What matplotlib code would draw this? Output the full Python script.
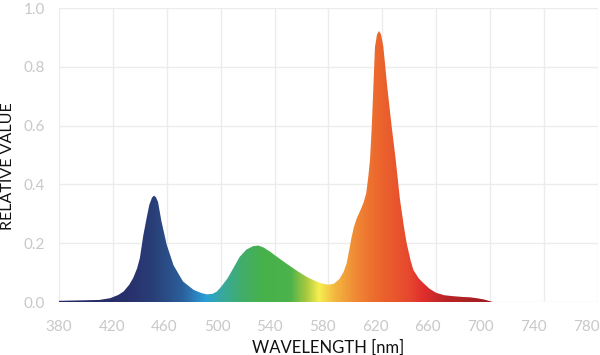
import numpy as np
import matplotlib
matplotlib.use("Agg")
import matplotlib.pyplot as plt
import matplotlib.transforms as mtransforms
from matplotlib.colors import LinearSegmentedColormap

# ---- data ----
wavelength = [380, 390, 400, 410, 418, 424, 428, 432, 435, 438, 440, 442.5, 445, 447, 449,
              450.5, 452, 453.5, 456, 460, 465, 472, 480, 486, 490, 494, 497, 500, 505, 510,
              514, 519, 524, 528, 532, 537, 542, 549, 557, 564, 570, 575, 580, 584, 588, 591,
              593.5, 595.5, 597.2, 599, 601, 603.5, 606, 608, 609.5, 610.8, 612.1, 613.3,
              614.5, 616, 617.5, 619, 620.7, 623.6, 626.9, 629.9, 633, 636, 638, 641, 643,
              647, 650.5, 655, 660, 666, 672, 680, 685, 690, 695, 699, 702]
relative = [0.004, 0.005, 0.006, 0.007, 0.013, 0.024, 0.036, 0.058, 0.081, 0.115, 0.149, 0.225,
            0.285, 0.33, 0.355, 0.362, 0.356, 0.34, 0.275, 0.194, 0.125, 0.07, 0.041, 0.030,
            0.026, 0.028, 0.035, 0.05, 0.08, 0.12, 0.153, 0.178, 0.19, 0.192, 0.185, 0.17,
            0.153, 0.13, 0.105, 0.085, 0.072, 0.063, 0.059, 0.062, 0.078, 0.1, 0.132, 0.18,
            0.222, 0.258, 0.285, 0.31, 0.338, 0.37, 0.425, 0.483, 0.596, 0.732, 0.868, 0.91,
            0.922, 0.91, 0.868, 0.732, 0.596, 0.483, 0.35, 0.255, 0.2, 0.14, 0.109, 0.08,
            0.064, 0.045, 0.031, 0.023, 0.02, 0.017, 0.016, 0.013, 0.009, 0.004, 0.0]

x_ticks = [380, 420, 460, 500, 540, 580, 620, 660, 700, 740, 780]
y_ticks = [0.0, 0.2, 0.4, 0.6, 0.8, 1.0]
y_tick_labels = ["0.0", "0.2", "0.4", "0.6", "0.8", "1.0"]

# spectrum colour stops (wavelength, colour)
stop_wl = [380, 430, 450, 470, 480, 488, 500, 515, 530, 552, 563, 573, 585, 600, 615, 640, 650, 668, 700, 780]
stop_col = ["#262a63", "#28306b", "#293f78", "#2b5e98", "#2b7dba", "#2a9fd8", "#37a8a0", "#41ad6c",
            "#46b14b", "#4db34a", "#a6c83f", "#f5ee50", "#f3b640", "#ef8a35", "#ec6a2d", "#e6482e",
            "#e12f2e", "#b82425", "#a01e22", "#a01e22"]

W, H = 600, 355
fig = plt.figure(figsize=(W / 100, H / 100), dpi=100)
ax = fig.add_axes([59 / W, 1 - 302 / H, 539 / W, 294 / H])

xmin, xmax = 380, 780
cmap = LinearSegmentedColormap.from_list(
    "spec", [((w - xmin) / (xmax - xmin), c) for w, c in zip(stop_wl, stop_col)])

ax.set_xlim(xmin, xmax)
ax.set_ylim(0, 1.0)

poly = ax.fill_between(wavelength, 0, relative, color="none", lw=0)
grad = np.linspace(0, 1, 800).reshape(1, -1)
im = ax.imshow(grad, extent=[xmin, xmax, 0, 1], aspect="auto", cmap=cmap,
               origin="lower", zorder=2, interpolation="bilinear")
im.set_clip_path(poly.get_paths()[0], transform=ax.transData)

ax.set_xticks(x_ticks)
ax.set_yticks(y_ticks)
ax.set_yticklabels(y_tick_labels)
ax.grid(True, color="#ececec", lw=1.0, zorder=0)
ax.set_axisbelow(True)
for s in ax.spines.values():
    s.set_visible(False)
ax.tick_params(axis="x", length=0, colors="#c8c8c8", labelsize=11, pad=13)
ax.tick_params(axis="y", length=0, colors="#c8c8c8", labelsize=11, pad=10)
for lab in ax.get_xticklabels() + ax.get_yticklabels():
    lab.set_fontfamily("Lato")

# x tick labels in the reference drift slightly left of their grid lines
for i, lab in enumerate(ax.get_xticklabels()):
    off = mtransforms.ScaledTranslation(-1.2 * i / 100, 0, fig.dpi_scale_trans)
    lab.set_transform(lab.get_transform() + off)

fig.text(328.5 / W, 2.5 / H, "WAVELENGTH [nm]", fontsize=12, family="Lato",
         color="#111111", ha="center", va="baseline")
fig.text(8 / W, 1 - 166 / H, "RELATIVE VALUE", fontsize=11.5, family="Lato",
         color="#111111", ha="center", va="center", rotation=90)

fig.savefig("out.png", dpi=100)
